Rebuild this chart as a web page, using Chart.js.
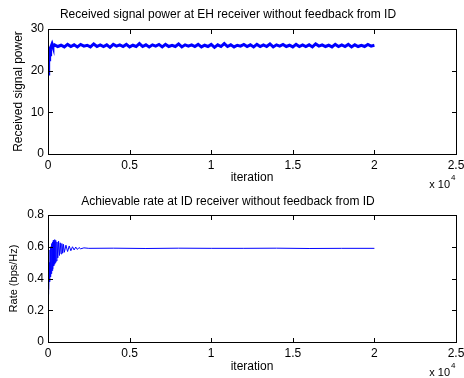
<!DOCTYPE html>
<html>
<head>
<meta charset="utf-8">
<script src="https://cdn.jsdelivr.net/npm/chart.js@4.4.1/dist/chart.umd.min.js"></script>
<style>
  html, body { margin: 0; padding: 0; background: #fff; }
  #wrap { position: relative; width: 464px; height: 378px; }
  canvas { display: block; }
  .edge { position: absolute; background: #000; pointer-events: none; }
</style>
</head>
<body>
<div id="wrap">
  <canvas id="top" width="464" height="190"></canvas>
  <canvas id="bottom" width="464" height="188"></canvas>
</div>
<script>
// iterations and received power (EH receiver)
var iterPower = [0, 20, 40, 60, 80, 100, 130, 160, 200, 250, 300,
  400, 600, 800, 1000, 1200, 1400, 1600, 1800, 2000, 2200, 2400, 2600, 2800, 3000, 3200, 3400, 3600, 3800,
  4000, 4200, 4400, 4600, 4800, 5000, 5200, 5400, 5600, 5800, 6000, 6200, 6400, 6600, 6800, 7000, 7200,
  7400, 7600, 7800, 8000, 8200, 8400, 8600, 8800, 9000, 9200, 9400, 9600, 9800, 10000, 10200, 10400,
  10600, 10800, 11000, 11200, 11400, 11600, 11800, 12000, 12200, 12400, 12600, 12800, 13000, 13200,
  13400, 13600, 13800, 14000, 14200, 14400, 14600, 14800, 15000, 15200, 15400, 15600, 15800, 16000,
  16200, 16400, 16600, 16800, 17000, 17200, 17400, 17600, 17800, 18000, 18200, 18400, 18600, 18800,
  19000, 19200, 19400, 19600, 19800, 20000];
var power = [19.2, 21.5, 20.8, 23.0, 22.6, 24.2, 23.8, 25.3, 25.9, 26.4, 25.8,
  26.2, 25.8, 26.1, 25.7, 26.3, 25.8, 26.2, 25.7, 26.3, 25.9,
  26.1, 25.7, 26.4, 25.8, 26.2, 25.8, 26.2, 25.6, 26.3, 25.9,
  26.2, 25.8, 26.3, 25.7, 26.1, 25.8, 26.5, 25.8, 26.2, 25.7,
  26.2, 25.9, 26.3, 25.7, 26.3, 25.8, 26.1, 25.8, 26.4, 25.7,
  26.2, 25.9, 26.2, 25.8, 26.3, 25.7, 26.1, 25.8, 26.3, 25.6,
  26.2, 25.8, 26.5, 25.8, 26.2, 25.7, 26.1, 25.9, 26.3, 25.8,
  26.2, 25.7, 26.3, 25.8, 26.2, 25.8, 26.4, 25.7, 26.2, 25.9,
  26.3, 25.8, 26.1, 25.7, 26.3, 25.8, 26.2, 25.8, 26.2, 25.7,
  26.4, 25.9, 26.2, 25.8, 26.1, 25.7, 26.3, 25.8, 26.2, 25.8,
  26.3, 25.7, 26.2, 25.8, 26.1, 25.8, 26.3, 25.9, 26.1];

// iterations and achievable rate (ID receiver)
var iterRate = [0, 25, 50, 75, 100, 125, 150, 175, 200, 225, 250, 275, 300, 325, 350, 375, 400, 425,
  450, 475, 500, 550, 600, 650, 700, 750, 800, 850, 900, 950, 1000, 1100, 1200, 1300, 1400, 1500,
  1600, 1700, 1800, 1900, 2000, 2200, 2500, 4000, 6000, 8000, 10000, 12000, 14000, 16000, 18000, 20000];
var rate = [0.30, 0.42, 0.33, 0.50, 0.38, 0.58, 0.41, 0.60, 0.43, 0.62, 0.45, 0.63, 0.46, 0.64, 0.48,
  0.63, 0.49, 0.645, 0.50, 0.64, 0.51, 0.63, 0.53, 0.635, 0.545, 0.625, 0.555, 0.62, 0.56, 0.615,
  0.565, 0.61, 0.57, 0.605, 0.575, 0.60, 0.58, 0.598, 0.583, 0.595, 0.587, 0.593, 0.59, 0.591, 0.589,
  0.591, 0.59, 0.59, 0.591, 0.589, 0.59, 0.59];

var xTickLabels = ['0', '0.5', '1', '1.5', '2', '2.5'];

var wrap = document.getElementById('wrap');

// "x 10^4" note under the right end of the x axis
var expNote = {
  id: 'expNote',
  afterDraw: function (chart) {
    var ctx = chart.ctx, r = Math.round(chart.chartArea.right);
    ctx.save();
    ctx.fillStyle = '#000';
    ctx.textAlign = 'right';
    ctx.textBaseline = 'alphabetic';
    ctx.font = '11px Arial';
    ctx.fillText('x 10', r - 6, chart.height - 2);
    ctx.font = '8px Arial';
    ctx.textAlign = 'left';
    ctx.fillText('4', r - 5, chart.height - 10);
    ctx.restore();
  }
};

// axes box and inward ticks as thin page elements laid over the canvas,
// placed from the chart's own area and scales
var boxOverlay = {
  id: 'boxOverlay',
  afterRender: function (chart) {
    var c = chart.canvas, a = chart.chartArea, x = chart.scales.x, y = chart.scales.y;
    var ox = c.offsetLeft, oy = c.offsetTop;
    var l = Math.round(a.left), r = Math.round(a.right), t = Math.round(a.top), b = Math.round(a.bottom);
    wrap.querySelectorAll('.edge-' + c.id).forEach(function (e) { e.remove(); });
    function bar(px, py, w, h) {
      var d = document.createElement('div');
      d.className = 'edge edge-' + c.id;
      d.style.left = (ox + px) + 'px';
      d.style.top = (oy + py) + 'px';
      d.style.width = w + 'px';
      d.style.height = h + 'px';
      wrap.appendChild(d);
    }
    bar(l, t, r - l + 1, 1);
    bar(l, b, r - l + 1, 1);
    bar(l, t, 1, b - t + 1);
    bar(r, t, 1, b - t + 1);
    x.ticks.forEach(function (tk) {
      if (tk.value <= x.min || tk.value >= x.max) return;
      var px = Math.round(x.getPixelForValue(tk.value));
      bar(px, b - 4, 1, 4);
      bar(px, t + 1, 1, 4);
    });
    y.ticks.forEach(function (tk) {
      if (tk.value <= y.min || tk.value >= y.max) return;
      var py = Math.round(y.getPixelForValue(tk.value));
      bar(l + 1, py, 4, 1);
      bar(r - 4, py, 4, 1);
    });
  }
};

function makeChart(id, title, ylabel, xs, ys, ymax, ystep, opt) {
  var pts = xs.map(function (v, i) { return { x: v, y: ys[i] }; });
  return new Chart(document.getElementById(id), {
    type: 'line',
    data: {
      datasets: [{
        data: pts,
        borderColor: '#0000ff',
        borderWidth: opt.lw,
        pointRadius: 0,
        tension: 0,
        fill: false
      }]
    },
    options: {
      responsive: false,
      animation: false,
      layout: { padding: { left: 0, right: 8, top: 0, bottom: 0 } },
      plugins: {
        legend: { display: false },
        tooltip: { enabled: false },
        title: {
          display: true,
          text: title,
          color: '#000',
          font: { family: 'Arial', size: 12, weight: 'normal' },
          padding: { top: opt.tTop, bottom: opt.tBottom }
        }
      },
      scales: {
        x: {
          type: 'linear',
          min: 0,
          max: 25000,
          grid: { display: false, drawTicks: false, tickLength: 0 },
          border: { display: false },
          afterFit: function (s) { s.height = opt.xh; s.paddingLeft = 0; s.paddingRight = 0; },
          ticks: {
            stepSize: 5000,
            padding: 4,
            maxRotation: 0,
            color: '#000',
            font: { family: 'Arial', size: 12 },
            callback: function (v) { return xTickLabels[Math.round(v / 5000)]; }
          },
          title: {
            display: true,
            text: 'iteration',
            color: '#000',
            font: { family: 'Arial', size: 12 },
            padding: { top: 0, bottom: opt.xtPad }
          }
        },
        y: {
          min: 0,
          max: ymax,
          grid: { display: false, drawTicks: false, tickLength: 0 },
          border: { display: false },
          afterFit: function (s) { s.width = 48; s.paddingTop = 0; s.paddingBottom = 0; },
          ticks: {
            stepSize: ystep,
            padding: 4,
            color: '#000',
            font: { family: 'Arial', size: 12 }
          },
          title: {
            display: true,
            text: ylabel,
            color: '#000',
            font: { family: 'Arial', size: opt.ylSize },
            padding: { top: opt.ytPad, bottom: 0 }
          }
        }
      }
    },
    plugins: [expNote, boxOverlay]
  });
}

makeChart('top', 'Received signal power at EH receiver without feedback from ID',
  'Received signal power', iterPower, power, 30, 10,
  { lw: 3, tTop: 7, tBottom: 7.6, xh: 36, xtPad: 5, ytPad: 11, ylSize: 12 });
makeChart('bottom', 'Achievable rate at ID receiver without feedback from ID',
  'Rate (bps/Hz)', iterRate, rate, 0.8, 0.2,
  { lw: 1, tTop: 4.8, tBottom: 5.8, xh: 36, xtPad: 4, ytPad: 7, ylSize: 11 });
</script>
</body>
</html>
